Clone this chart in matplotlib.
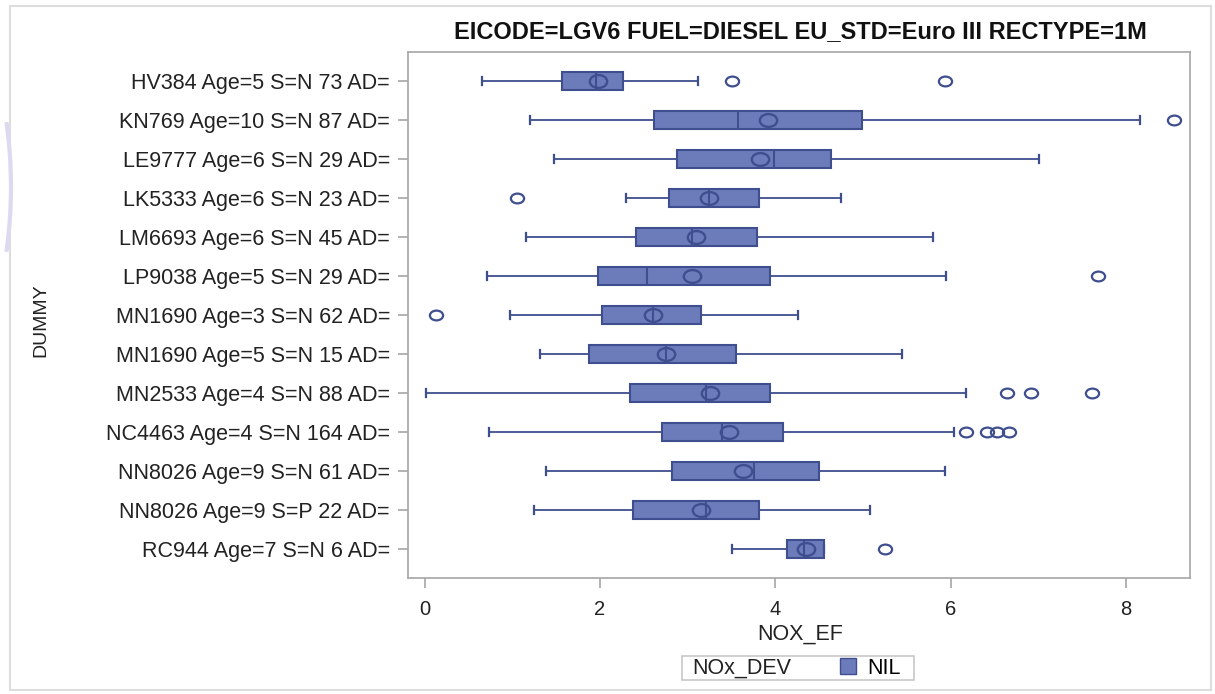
import matplotlib
matplotlib.use('Agg')
import matplotlib.pyplot as plt
from matplotlib.patches import Patch, Rectangle, Arc
from matplotlib.path import Path
from matplotlib.transforms import Affine2D

# data (NOX_EF per vehicle)
labels = ['HV384 Age=5 S=N 73 AD=', 'KN769 Age=10 S=N 87 AD=', 'LE9777 Age=6 S=N 29 AD=',
          'LK5333 Age=6 S=N 23 AD=', 'LM6693 Age=6 S=N 45 AD=', 'LP9038 Age=5 S=N 29 AD=',
          'MN1690 Age=3 S=N 62 AD=', 'MN1690 Age=5 S=N 15 AD=', 'MN2533 Age=4 S=N 88 AD=',
          'NC4463 Age=4 S=N 164 AD=', 'NN8026 Age=9 S=N 61 AD=', 'NN8026 Age=9 S=P 22 AD=',
          'RC944 Age=7 S=N 6 AD=']
whislo = [0.65, 1.20, 1.48, 2.30, 1.16, 0.71, 0.97, 1.31, 0.02, 0.73, 1.38, 1.25, 3.51]
q1 = [1.57, 2.62, 2.88, 2.79, 2.41, 1.98, 2.02, 1.87, 2.34, 2.71, 2.82, 2.38, 4.13]
med = [1.95, 3.57, 3.98, 3.24, 3.05, 2.54, 2.60, 2.75, 3.21, 3.39, 3.76, 3.21, 4.33]
q3 = [2.26, 4.99, 4.63, 3.81, 3.79, 3.94, 3.15, 3.55, 3.94, 4.09, 4.50, 3.81, 4.56]
whishi = [3.12, 8.16, 7.01, 4.75, 5.80, 5.95, 4.26, 5.45, 6.17, 6.04, 5.93, 5.08, 4.56]
means = [1.98, 3.92, 3.83, 3.24, 3.10, 3.05, 2.60, 2.75, 3.25, 3.47, 3.63, 3.15, 4.35]
outliers = [[3.51, 5.94], [8.55], [], [1.05], [], [7.68], [0.13], [],
            [6.64, 6.92, 7.61], [6.17, 6.42, 6.53, 6.67], [], [], [5.25]]

title = 'EICODE=LGV6 FUEL=DIESEL EU_STD=Euro III RECTYPE=1M'
xticks = [0, 2, 4, 6, 8]

FILL = '#6c7cbb'
EDGE = '#3f4e8e'
GREY = '#a6a6a6'

plt.rcParams['font.family'] = ['Liberation Sans', 'DejaVu Sans']

# the screenshot is a bit stretched sideways, so circles come out as flat ellipses
oval = Affine2D().scale(1.35, 1).transform_path(Path.unit_circle())

fig = plt.figure(figsize=(12.15, 6.94), dpi=100)
W, H = 1215, 694
ax = fig.add_axes([408 / W, 1 - 578 / H, (1190 - 408) / W, (578 - 52) / H])

stats = []
for i in range(len(labels)):
    stats.append(dict(label=labels[i], whislo=whislo[i], q1=q1[i], med=med[i], q3=q3[i],
                      whishi=whishi[i], mean=means[i], fliers=outliers[i]))

pos = list(range(len(labels)))
ax.bxp(stats, positions=pos, orientation='horizontal', widths=0.45, capwidths=0.2,
       patch_artist=True, showmeans=True,
       boxprops=dict(facecolor=FILL, edgecolor=EDGE, linewidth=1.5),
       medianprops=dict(color=EDGE, linewidth=1.5),
       whiskerprops=dict(color=EDGE, linewidth=1.3),
       capprops=dict(color=EDGE, linewidth=1.6),
       flierprops=dict(marker=oval, markerfacecolor='none', markeredgecolor=EDGE,
                       markersize=9.5, markeredgewidth=1.6),
       meanprops=dict(marker=oval, markerfacecolor='none', markeredgecolor=EDGE,
                      markersize=12.5, markeredgewidth=1.7))

ax.set_ylim(len(labels) - 1 + 0.74, -0.74)
ax.set_xlim(-0.19, 8.73)
ax.set_xticks(xticks)
ax.set_xticklabels([str(t) for t in xticks])
for s in ax.spines.values():
    s.set_color(GREY)
    s.set_linewidth(1.2)
ax.tick_params(axis='both', colors=GREY, length=7, width=1.2, labelcolor='#222222')
ax.tick_params(axis='y', labelsize=15.5, pad=6)
ax.tick_params(axis='x', labelsize=14.5, pad=9)

fig.text(800 / W, 1 - 32 / H, title, ha='center', va='center', fontsize=17,
         fontweight='bold', color='#111111')
fig.text(800 / W, 1 - 634 / H, 'NOX_EF', ha='center', va='center', fontsize=15.5, color='#222222')
fig.text(41 / W, 1 - 320 / H, 'DUMMY', ha='center', va='center', rotation=90,
         fontsize=14, color='#222222')

# legend box at the bottom
fig.add_artist(Rectangle((682 / W, 1 - 680 / H), (914 - 682) / W, 24 / H,
                         transform=fig.transFigure, facecolor='white', edgecolor='#c8c8c8', lw=1.2))
fig.text(692 / W, 1 - 668 / H, 'NOx_DEV', ha='left', va='center', fontsize=15.5, color='#222222')
fig.legend(handles=[Patch(facecolor=FILL, edgecolor=EDGE, label='NIL')], loc='center left',
           bbox_to_anchor=(840 / W, 1 - 668 / H), frameon=False, borderpad=0, borderaxespad=0,
           handlelength=0.75, handleheight=0.75, handletextpad=0.5, fontsize=15.5)

# page frame and faint decoration from the screenshot
fig.add_artist(Rectangle((10 / W, 1 - 690 / H), 1201 / W, 684 / H, transform=fig.transFigure,
                         facecolor='none', edgecolor='#dddddd', lw=1.5))
fig.add_artist(Arc((-449 / W, 1 - 187 / H), 2 * 460 / W, 2 * 460 / H, theta1=-14, theta2=14,
                   transform=fig.transFigure, color='#dcd9f0', lw=3))

fig.savefig('out.png', dpi=100)
